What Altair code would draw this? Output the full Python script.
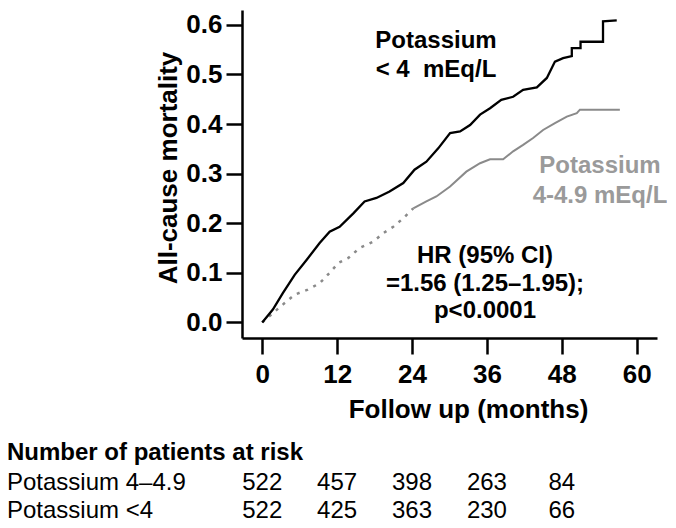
import altair as alt
import pandas as pd

# ---- data ----
# Potassium < 4 mEq/L (black)
black_months = [0, 1.7, 3.3, 5.2, 7.1, 9.2, 10.8, 12.4, 14.6, 16.4, 18.3, 20.4, 22.6, 24.4, 26.3,
                28.2, 30.1, 31.7, 33.3, 34.9, 36.5, 38.3, 40.2, 41.8, 44.0, 45.6, 46.9, 48.2, 49.6,
                49.6, 51.0, 51.0, 54.6, 54.6, 56.8]
black_vals = [0, 0.026, 0.059, 0.096, 0.126, 0.16, 0.183, 0.193, 0.22, 0.244, 0.251, 0.264, 0.281,
              0.308, 0.324, 0.351, 0.382, 0.385, 0.398, 0.419, 0.432, 0.449, 0.455, 0.469, 0.474,
              0.493, 0.526, 0.533, 0.537, 0.553, 0.553, 0.566, 0.566, 0.607, 0.609]
# Potassium 4-4.9 mEq/L (grey)
gray_months = [0, 3.3, 5.2, 7.3, 9.2, 10.8, 12.2, 13.8, 15.6, 17.8, 19.4, 21.0, 22.6, 24.2, 26.3,
               27.9, 30.1, 32.7, 34.9, 36.5, 38.6, 40.2, 41.8, 43.4, 45.0, 46.9, 48.8, 50.4, 50.9, 57.3]
gray_vals = [0, 0.036, 0.056, 0.066, 0.079, 0.1, 0.12, 0.13, 0.15, 0.163, 0.18, 0.193, 0.21, 0.23,
             0.244, 0.254, 0.274, 0.304, 0.321, 0.329, 0.329, 0.345, 0.358, 0.372, 0.388, 0.402,
             0.415, 0.422, 0.429, 0.429]

x_ticks = [0, 12, 24, 36, 48, 60]
y_ticks = [0.0, 0.1, 0.2, 0.3, 0.4, 0.5, 0.6]

risk_months = [0, 12, 24, 36, 48]
risk_high = [522, 457, 398, 263, 84]   # Potassium 4–4.9
risk_low = [522, 425, 363, 230, 66]    # Potassium <4

FONT = "Liberation Sans"

black_df = pd.DataFrame({"month": black_months, "value": black_vals, "i": range(len(black_months))})
gray_df = pd.DataFrame({"month": gray_months, "value": gray_vals, "i": range(len(gray_months))})

xs = alt.Scale(domain=[-3.24, 63.25], nice=False, zero=False)
ys = alt.Scale(domain=[-0.0314, 0.630], nice=False, zero=False)

x_axis = alt.Axis(values=x_ticks, title="Follow up (months)", titleX=226, titleY=71,
                  titleBaseline="middle", titleAlign="center", labelPadding=7)
y_axis = alt.Axis(values=y_ticks, format=".1f", title="All-cause mortality", titleX=-74,
                  titleY=157.5, titleAngle=-90, titleBaseline="middle", titleAlign="center",
                  labelPadding=4)

black_line = alt.Chart(black_df).mark_line(color="black", strokeWidth=2.3).encode(
    x=alt.X("month:Q", scale=xs, axis=x_axis),
    y=alt.Y("value:Q", scale=ys, axis=y_axis),
    order="i:Q",
)

gray_early = alt.Chart(gray_df).transform_filter("datum.month <= 24.2").mark_line(
    color="#8a8a8a", strokeWidth=2.5, strokeDash=[3, 6]).encode(
    x=alt.X("month:Q", scale=xs), y=alt.Y("value:Q", scale=ys), order="i:Q")
gray_late = alt.Chart(gray_df).transform_filter("datum.month >= 24.2").mark_line(
    color="#8a8a8a", strokeWidth=2).encode(
    x=alt.X("month:Q", scale=xs), y=alt.Y("value:Q", scale=ys), order="i:Q")

# annotations (pixel positions relative to the plot area)
ann_black = ["Potassium", "< 4\u00a0 mEq/L"]
ann_gray = ["Potassium", "4-4.9 mEq/L"]
ann_hr = ["HR (95% CI)", "=1.56 (1.25\u20131.95);", "p<0.0001"]

def text_layer(lines, x, ys_px, color, weight="bold", size=24, align="center"):
    layers = []
    for t, yy in zip(lines, ys_px):
        layers.append(alt.Chart(pd.DataFrame({"t": [t]})).mark_text(
            font=FONT, fontSize=size, fontWeight=weight, color=color, align=align,
            baseline="middle").encode(x=alt.value(x), y=alt.value(yy), text="t:N"))
    return layers

annos = []
annos += text_layer(ann_black, 194, [31, 60], "black")
annos += text_layer(ann_gray, 358, [156, 186], "#9a9a9a")
annos += text_layer(ann_hr, 243, [246, 274, 301], "black")

# number at risk table
table_title = alt.Chart(pd.DataFrame({"t": ["Number of patients at risk"]})).mark_text(
    font=FONT, fontSize=24, fontWeight="bold", color="black", align="left", baseline="middle"
).encode(x=alt.value(-235), y=alt.value(443), text="t:N")
row_labels = ["Potassium 4\u20134.9", "Potassium <4"]
row_y = [473, 501]
table_layers = [table_title]
for lab, yy, vals in zip(row_labels, row_y, [risk_high, risk_low]):
    table_layers.append(alt.Chart(pd.DataFrame({"t": [lab]})).mark_text(
        font=FONT, fontSize=24, color="black", align="left", baseline="middle"
    ).encode(x=alt.value(-235), y=alt.value(yy), text="t:N"))
    table_layers.append(alt.Chart(pd.DataFrame({"month": risk_months, "n": vals})).mark_text(
        font=FONT, fontSize=24, color="black", align="center", baseline="middle"
    ).encode(x=alt.X("month:Q", scale=xs), y=alt.value(yy), text="n:Q"))

chart = alt.layer(gray_early, gray_late, black_line, *annos, *table_layers).properties(
    width=415, height=328,
    autosize=alt.AutoSizeParams(type="none"),
    padding={"left": 234, "top": 2, "right": 10, "bottom": 188},
).configure_view(stroke=None).configure_axis(
    grid=False, domainColor="black", domainWidth=2.5, tickColor="black", tickWidth=2.5,
    tickSize=16, labelFont=FONT, labelFontWeight="bold", labelFontSize=26, labelColor="black",
    titleFont=FONT, titleFontWeight="bold", titleFontSize=26, titleColor="black",
)

chart.save("out.html", embed_options={"renderer": "svg", "actions": False})
